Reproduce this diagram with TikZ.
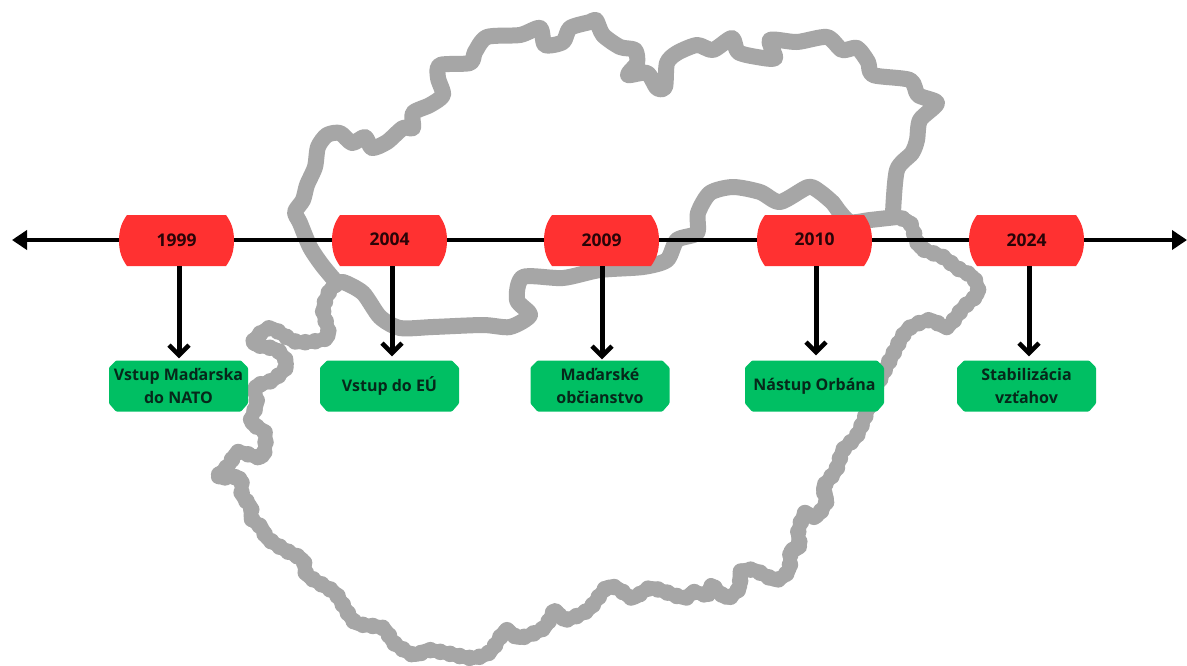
\documentclass[tikz,border=0pt]{standalone}
\usepackage{fontspec}
\setmainfont{Open Sans}
\usetikzlibrary{arrows.meta}
\definecolor{borderc}{HTML}{A6A6A6}
\definecolor{yearc}{HTML}{FF3131}
\definecolor{eventc}{HTML}{00BF63}
\definecolor{yeartxt}{HTML}{2A0408}
\definecolor{eventtxt}{HTML}{06281A}
\tikzset{
  outline/.style={draw=borderc,line width=16pt,line join=round,line cap=round,smooth,tension=0.45},
  lowline/.style={draw=borderc,line width=14pt,line join=round,line cap=round,smooth,tension=0.45},
  beads/.style={draw=borderc,line width=16.5pt,line cap=round,smooth,tension=0.45,dash pattern=on 0pt off 10pt},
  yearbox/.style={rectangle,minimum width=115pt,minimum height=51pt,inner sep=0pt,text=yeartxt,
    font=\fontsize{17.5}{20}\selectfont\bfseries,
    path picture={
      \coordinate (sw) at (path picture bounding box.south west);
      \coordinate (ne) at (path picture bounding box.north east);
      \coordinate (mm) at (path picture bounding box.center);
      \fill[yearc] ([xshift=8pt]sw |- ne) -- ([xshift=-8pt]ne)
        .. controls ([xshift=-3pt,yshift=-7pt]ne) and ([yshift=-14pt]ne) .. (ne |- mm)
        .. controls ([yshift=14pt]ne |- sw) and ([xshift=-3pt,yshift=7pt]ne |- sw) .. ([xshift=-8pt]ne |- sw)
        -- ([xshift=8pt]sw)
        .. controls ([xshift=3pt,yshift=7pt]sw) and ([yshift=14pt]sw) .. (sw |- mm)
        .. controls ([yshift=-14pt]sw |- ne) and ([xshift=3pt,yshift=-7pt]sw |- ne) .. ([xshift=8pt]sw |- ne)
        -- cycle;
    }},
  eventbox/.style={rectangle,minimum width=139pt,minimum height=51pt,inner sep=0pt,align=center,text=eventtxt,
    font=\fontsize{16}{22.5}\selectfont\bfseries,
    path picture={
      \coordinate (sw) at (path picture bounding box.south west);
      \coordinate (ne) at (path picture bounding box.north east);
      \fill[eventc,rounded corners=1pt]
        ([xshift=7pt]sw) -- ([xshift=-7pt]ne |- sw) -- ([yshift=8pt]ne |- sw)
        -- ([yshift=-7pt]ne) -- ([xshift=-7pt]ne) -- ([xshift=7pt]sw |- ne)
        -- ([yshift=-7pt]sw |- ne) -- ([yshift=8pt]sw) -- cycle;
    }},
  axis/.style={line width=4pt,draw=black},
  axishead/.style={-{Triangle[length=15pt,width=19pt]}},
  drop/.style={line width=5pt,draw=black,-{Straight Barb[length=10pt,width=20pt,line width=4.5pt]},shorten >=3pt},
}
\def\lowerpts{(335,285)(330,290)(323,310)(328,337)(297,342)(270,328)(253,343)(277,350)(287,365)(273,380)(255,387)(257,403)(251,422)(265,433)(262,457)(238,452)(229,465)(218,477)(240,478)(242,495)(251,507)(251,518)(262,528)(267,538)(285,550)(303,560)(307,575)(334,592)(343,605)(356,623)(383,628)(394,643)(414,655)(428,650)(446,653)(472,658)(490,652)(506,630)(519,638)(544,628)(555,610)(564,620)(588,610)(606,588)(617,588)(633,598)(651,588)(684,598)(693,592)(709,595)(711,585)(727,598)(740,587)(740,572)(754,570)(776,580)(789,570)(791,550)(800,547)(798,533)(805,513)(816,517)(827,500)(823,488)(836,470)(843,450)(856,437)(865,417)(875,390)(890,360)(907,330)(930,320)(947,327)(963,308)(978,293)(973,277)(957,268)(943,257)(920,247)(910,223)(897,217)}
\begin{document}
\begin{tikzpicture}[x=1pt,y=-1pt]
\useasboundingbox[fill=white] (0,0) rectangle (1187,665);
% upper outline
\draw[outline] plot coordinates {(337,283)(322,265)(310,247)(300,223)(295,212)(303,200)(307,185)(315,167)(318,147)(327,135)(340,133)(352,143)(365,137)(372,148)(387,142)(403,128)(413,128)(413,113)(430,105)(443,95)(438,78)(440,65)(470,63)(475,52)(487,37)(520,35)(540,28)(545,45)(563,42)(570,28)(590,22)(596,20)(603,35)(620,47)(635,50)(637,63)(628,75)(647,73)(657,88)(665,87)(667,63)(677,53)(697,45)(713,50)(732,38)(738,52)(757,57)(775,58)(770,40)(797,42)(827,37)(842,50)(857,48)(868,62)(873,75)(910,80)(918,95)(937,103)(920,120)(917,140)(912,153)(897,170)(893,213)};
\draw[outline] plot coordinates {(897,217)(870,220)(850,222)(838,210)(833,203)(820,192)(808,187)(780,202)(760,192)(733,187)(710,193)(698,213)(697,233)(677,240)(667,260)(643,267)(600,270)(563,278)(523,277)(517,300)(530,315)(510,327)(483,325)(433,327)(400,328)(380,317)(363,293)(343,282)(335,285)};
% lower outline
\draw[lowline] plot coordinates {\lowerpts};
\draw[beads] plot coordinates {\lowerpts};
% year boxes
\node[yearbox] (r1) at (176.5,240.5) {1999};
\node[yearbox] (r2) at (389.5,240.5) {\raisebox{2pt}{2004}};
\node[yearbox] (r3) at (601.5,240.5) {2009};
\node[yearbox] (r4) at (814.5,240.5) {\raisebox{2pt}{2010}};
\node[yearbox] (r5) at (1026.5,240.5) {2024};
% event boxes
\node[eventbox] (g1) at (178.5,386) {Vstup Maďarska\\do NATO};
\node[eventbox] (g2) at (389.5,386) {Vstup do EÚ};
\node[eventbox] (g3) at (600,386) {Maďarské\\občianstvo};
\node[eventbox] (g4) at (814.5,386) {Nástup Orbána};
\node[eventbox] (g5) at (1026.5,386) {Stabilizácia\\vzťahov};
% timeline
\coordinate (tl) at (12,240);
\coordinate (tr) at (1187,240);
\draw[axis,axishead] (r1.west |- tl) -- (tl);
\draw[axis] (r1.east |- tl) -- (r2.west |- tl);
\draw[axis] (r2.east |- tl) -- (r3.west |- tl);
\draw[axis] (r3.east |- tl) -- (r4.west |- tl);
\draw[axis] (r4.east |- tl) -- (r5.west |- tl);
\draw[axis,axishead] (r5.east |- tl) -- (tr);
% drops
\draw[drop] ([xshift=2.5pt]r1.south) -- ([xshift=2.5pt,yshift=-1pt]r1.south |- g1.north);
\draw[drop] ([xshift=2.5pt]r2.south) -- ([xshift=2.5pt,yshift=1pt]r2.south |- g2.north);
\draw[drop] ([xshift=0.5pt]r3.south) -- ([xshift=0.5pt,yshift=-2pt]r3.south |- g3.north);
\draw[drop] ([xshift=1.5pt]r4.south) -- ([xshift=1.5pt,yshift=2pt]r4.south |- g4.north);
\draw[drop] ([xshift=2.5pt]r5.south) -- ([xshift=2.5pt,yshift=1pt]r5.south |- g5.north);
\end{tikzpicture}
\end{document}
